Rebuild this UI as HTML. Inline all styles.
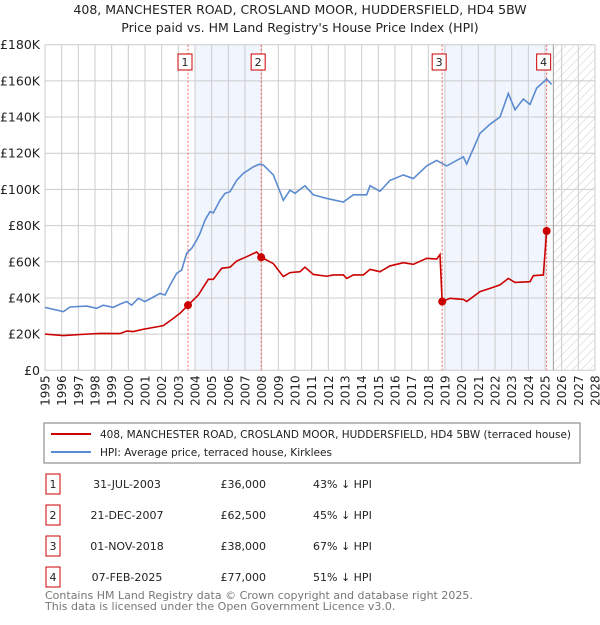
<!DOCTYPE html>
<html><head><meta charset="utf-8"><style>
body{margin:0;background:#fff;font-family:"Liberation Sans","DejaVu Sans",sans-serif;}
svg text{font-family:"DejaVu Sans","Liberation Sans",sans-serif;}
</style></head><body>
<svg id="c" width="600" height="620" xmlns="http://www.w3.org/2000/svg">
<defs><pattern id="hatch" width="6" height="6" patternUnits="userSpaceOnUse" patternTransform="rotate(45)"><line x1="0" y1="0" x2="0" y2="6" stroke="#ccc" stroke-width="1"/></pattern></defs>
<text x="300" y="14" text-anchor="middle" font-size="12.5" fill="#222">408, MANCHESTER ROAD, CROSLAND MOOR, HUDDERSFIELD, HD4 5BW</text>
<text x="300" y="32" text-anchor="middle" font-size="12.5" fill="#222">Price paid vs. HM Land Registry's House Price Index (HPI)</text>
<g id="plot"></g>
<rect x="44" y="423" width="536" height="40" fill="none" stroke="#777"/>
<line x1="51" y1="434" x2="91" y2="434" stroke="#cc0000" stroke-width="2"/>
<text x="100" y="438" font-size="11" fill="#222" textLength="471" lengthAdjust="spacingAndGlyphs">408, MANCHESTER ROAD, CROSLAND MOOR, HUDDERSFIELD, HD4 5BW (terraced house)</text>
<line x1="51" y1="452" x2="91" y2="452" stroke="#5b8bd0" stroke-width="2"/>
<text x="100" y="456" font-size="11" fill="#222" textLength="232" lengthAdjust="spacingAndGlyphs">HPI: Average price, terraced house, Kirklees</text>
<g id="table"></g>
<text x="45" y="599" font-size="11" fill="#777">Contains HM Land Registry data © Crown copyright and database right 2025.</text>
<text x="45" y="610" font-size="11" fill="#777">This data is licensed under the Open Government Licence v3.0.</text>
</svg>
<script>
const hpiYears=[1995,1996.1,1996.5,1997.5,1998.1,1998.5,1999.1,1999.5,1999.9,2000.2,2000.6,2001,2001.9,2002.2,2002.5,2002.9,2003.2,2003.5,2003.8,2004.1,2004.3,2004.6,2004.9,2005.1,2005.5,2005.8,2006.1,2006.5,2006.9,2007.5,2007.9,2008.1,2008.7,2009.1,2009.3,2009.7,2010,2010.3,2010.6,2011.1,2011.9,2012.9,2013.5,2014.3,2014.5,2015.1,2015.7,2016.5,2017.1,2017.9,2018.5,2019.1,2020.1,2020.3,2021.1,2021.7,2022.3,2022.8,2023.2,2023.7,2024.1,2024.5,2025.1,2025.4];
const hpiValues=[34800,32400,35000,35500,34300,36000,34800,36600,38000,36000,39800,38000,42500,41600,47000,53600,55400,64700,67400,72000,75700,83000,87700,87000,94000,97800,98700,105000,108900,112500,114000,113500,108000,98700,94000,99600,97800,100000,102000,97000,95000,93000,97000,97000,102000,99000,105000,108000,106000,113000,116000,113000,118000,114000,131000,136000,140000,153000,144000,150000,147000,156000,161000,158000];
const priceYears=[1995,1996.1,1997.5,1998.3,1999.5,1999.9,2000.3,2000.9,2001.7,2002.1,2002.7,2003.1,2003.58,2004.2,2004.8,2005.1,2005.6,2006.1,2006.5,2007.1,2007.7,2007.97,2008.7,2009.3,2009.7,2010.3,2010.6,2011.1,2011.9,2012.3,2012.9,2013.1,2013.5,2014.1,2014.5,2015.1,2015.7,2016.5,2017.1,2017.9,2018.5,2018.7,2018.83,2019.3,2020.1,2020.3,2021.1,2021.7,2022.3,2022.8,2023.2,2024.1,2024.3,2024.9,2025.1,2025.3];
const priceValues=[20000,19200,20000,20400,20300,21700,21400,22700,24000,24700,28700,31500,36000,41600,50300,50300,56400,57000,60400,62800,65400,62500,59000,51800,54000,54500,57000,53000,52000,52700,52700,50800,52700,52700,55800,54500,57700,59500,58600,61900,61500,64000,38000,39800,39200,38000,43500,45300,47200,50800,48600,49000,52300,52700,77000,77000];
const saleYears=[2003.58,2007.97,2018.83,2025.1];
const saleValues=[36000,62500,38000,77000];
const saleLabels=["1","2","3","4"];
const saleDates=["31-JUL-2003","21-DEC-2007","01-NOV-2018","07-FEB-2025"];
const salePrices=["£36,000","£62,500","£38,000","£77,000"];
const saleDiffs=["43% ↓ HPI","45% ↓ HPI","67% ↓ HPI","51% ↓ HPI"];
const yTicks=[0,20000,40000,60000,80000,100000,120000,140000,160000,180000];
const yTickLabels=["£0","£20K","£40K","£60K","£80K","£100K","£120K","£140K","£160K","£180K"];
const xTicks=[1995,1996,1997,1998,1999,2000,2001,2002,2003,2004,2005,2006,2007,2008,2009,2010,2011,2012,2013,2014,2015,2016,2017,2018,2019,2020,2021,2022,2023,2024,2025,2026,2027,2028];
const shadeRanges=[[2004.0,2007.97],[2018.9,2025.1]];
const forecastStart=2025.5;

const NS="http://www.w3.org/2000/svg";
const L=45,R=595,T=44.7,B=370.3;
const xs=y=>L+(y-1995)/(2028-1995)*(R-L);
const ys=v=>B-v/180000*(B-T);
function mk(tag,attrs,parent){const e=document.createElementNS(NS,tag);for(const k in attrs)e.setAttribute(k,attrs[k]);parent.appendChild(e);return e;}
const g=document.getElementById('plot');
shadeRanges.forEach((r,i)=>{const e=mk('rect',{x:xs(r[0]),y:T,width:xs(r[1])-xs(r[0]),height:B-T,fill:'#eef3fc',opacity:0.8},g);

});
const h=mk('rect',{x:xs(forecastStart),y:T,width:R-xs(forecastStart),height:B-T,fill:'url(#hatch)'},g);


xTicks.forEach(t=>{const e=mk('line',{x1:xs(t),x2:xs(t),y1:T,y2:B,stroke:'#ccc','stroke-width':1},g);


const tx=mk('text',{x:0,y:0,'font-size':12,fill:'#222','text-anchor':'end',transform:`translate(${xs(t)+4.5},${B+5}) rotate(-90)`},g);tx.textContent=t;

});
yTicks.forEach((t,i)=>{const e=mk('line',{x1:L,x2:R,y1:ys(t),y2:ys(t),stroke:'#ccc','stroke-width':1},g);


const tx=mk('text',{x:L-5,y:ys(t)+4.5,'font-size':12.5,fill:'#222','text-anchor':'end'},g);tx.textContent=yTickLabels[i];

});
const fl=mk('line',{x1:xs(forecastStart),x2:xs(forecastStart),y1:T,y2:B,stroke:'#999','stroke-width':1},g);


saleYears.forEach((y,i)=>{const e=mk('line',{x1:xs(y),x2:xs(y),y1:T,y2:B,stroke:'#f06060','stroke-width':1,'stroke-dasharray':'2,2'},g);

});
const hp=mk('polyline',{points:hpiYears.map((y,i)=>xs(y)+','+ys(hpiValues[i])).join(' '),fill:'none',stroke:'#5b8bd0','stroke-width':1.6},g);


const pp=mk('polyline',{points:priceYears.map((y,i)=>xs(y)+','+ys(priceValues[i])).join(' '),fill:'none',stroke:'#cc0000','stroke-width':1.6},g);


saleYears.forEach((y,i)=>{const c=mk('circle',{cx:xs(y),cy:ys(saleValues[i]),r:4,fill:'#cc0000'},g);


const bx=xs(y)-7-3;const b=mk('rect',{x:bx,y:54,width:14,height:16,fill:'#fff',stroke:'#cc0000','stroke-width':1},g);


const t=mk('text',{x:bx+7,y:66,'font-size':11,'text-anchor':'middle',fill:'#222'},g);t.textContent=saleLabels[i];

});
const tb=document.getElementById('table');
saleLabels.forEach((s,i)=>{const yc=484+i*31;
const b=mk('rect',{x:46,y:yc-10,width:14,height:20,fill:'#fff',stroke:'#cc0000','stroke-width':1},tb);


const t0=mk('text',{x:53,y:yc+4,'font-size':11,'text-anchor':'middle',fill:'#222'},tb);t0.textContent=s;


const t1=mk('text',{x:127,y:yc+4,'font-size':11,'text-anchor':'middle',fill:'#222'},tb);t1.textContent=saleDates[i];


const t2=mk('text',{x:266,y:yc+4,'font-size':11,'text-anchor':'end',fill:'#222'},tb);t2.textContent=salePrices[i];


const t3=mk('text',{x:313,y:yc+4,'font-size':11,fill:'#222'},tb);t3.textContent=saleDiffs[i];

});
</script>
</body></html>
